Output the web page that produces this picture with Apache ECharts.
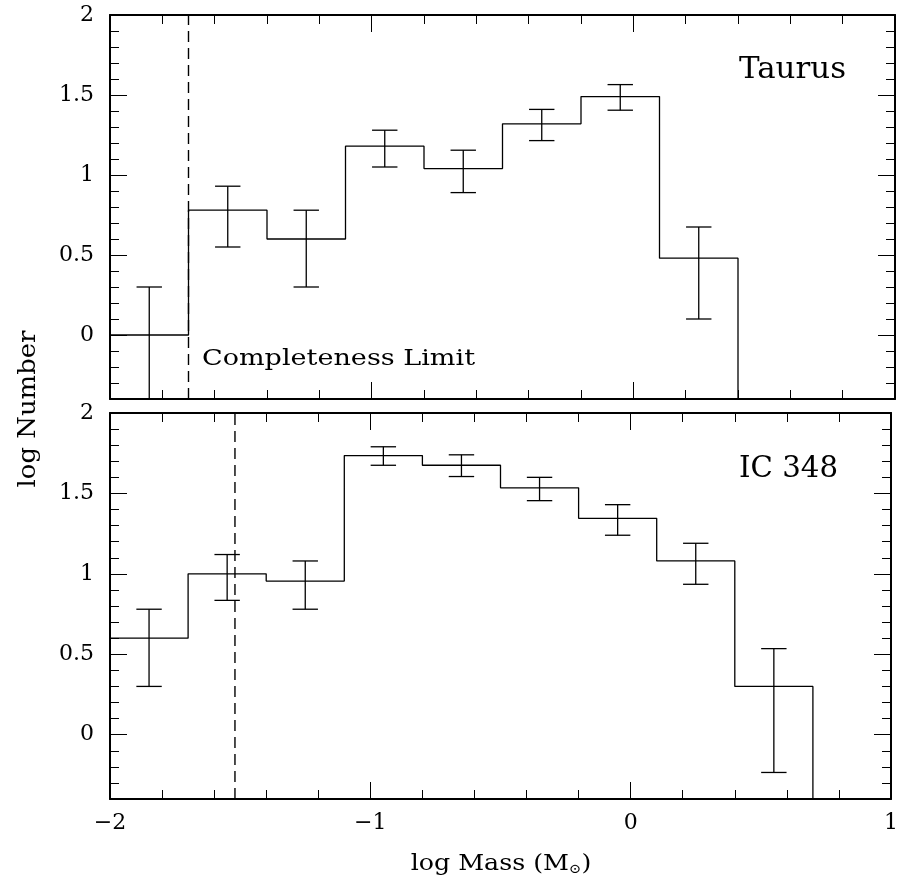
<!DOCTYPE html>
<html><head><meta charset="utf-8">
<script src="https://cdn.jsdelivr.net/npm/echarts@6/dist/echarts.min.js"></script>
<style>html,body{margin:0;padding:0;background:#fff}#c{width:901px;height:886px}</style>
</head><body><div id="c"></div>
<script>
// ---------------- data ----------------
const taurusEdges = [-2.0, -1.7, -1.4, -1.1, -0.8, -0.5, -0.2, 0.1, 0.4];
const taurusLogN  = [0.00, 0.78, 0.60, 1.18, 1.04, 1.32, 1.49, 0.48];
const taurusHigh  = [0.30, 0.93, 0.78, 1.28, 1.155, 1.41, 1.565, 0.675];
const taurusLow   = [null, 0.55, 0.30, 1.05, 0.89, 1.215, 1.405, 0.10];
const taurusLimit = -1.7;

const ic348Edges = [-2.0, -1.7, -1.4, -1.1, -0.8, -0.5, -0.2, 0.1, 0.4, 0.7];
const ic348LogN  = [0.60, 1.00, 0.955, 1.735, 1.675, 1.535, 1.345, 1.08, 0.30];
const ic348High  = [0.78, 1.12, 1.08, 1.79, 1.74, 1.60, 1.43, 1.19, 0.535];
const ic348Low   = [0.30, 0.835, 0.78, 1.675, 1.605, 1.455, 1.24, 0.935, -0.235];
const ic348Limit = -1.52;

const xMin = -2, xMax = 1, xStep = 1;
const yMin = -0.4, yMax = 2;
const yMajorTicks = [0, 0.5, 1, 1.5, 2];
const yMajorLabels = ['0', '0.5', '1', '1.5', '2'];
const yMinorTicks = [-0.4,-0.3,-0.2,-0.1,0,0.1,0.2,0.3,0.4,0.5,0.6,0.7,0.8,0.9,1.0,1.1,1.2,1.3,1.4,1.5,1.6,1.7,1.8,1.9,2.0];
const xTickLabels = {'-2': '\u22122', '-1': '\u22121', '0': '0', '1': '1'};

const panelNames = ['Taurus', 'IC 348'];
const yTitle = 'log Number';
const limitLabel = 'Completeness Limit';

// ---------------- chart ----------------
const FONT = '"DejaVu Serif", "Liberation Serif", serif';
const chart = echarts.init(document.getElementById('c'), null, {renderer: 'canvas'});
const black = '#000';

const grids = [
  {left: 110, right: 6, top: 15, height: 384},
  {left: 110, right: 6, top: 413, height: 386}
];

function stepPoints(edges, vals) {
  const pts = vals.map((v, i) => [edges[i], v]);
  pts.push([edges[edges.length - 1], vals[vals.length - 1]]);
  pts.push([edges[edges.length - 1], yMin - 1]);
  return pts;
}
function errPoints(edges, hi, lo) {
  return hi.map((h, i) => [(edges[i] + edges[i + 1]) / 2, h, lo[i] == null ? NaN : lo[i]]);
}

const xAxes = [], yAxes = [];
[0, 1].forEach(g => {
  ['bottom', 'top'].forEach(pos => {
    xAxes.push({
      type: 'value', gridIndex: g, position: pos, min: xMin, max: xMax, interval: xStep,
      axisLine: {show: true, onZero: false, lineStyle: {color: black, width: 2}},
      axisTick: {show: true, inside: true, length: 17, lineStyle: {color: black, width: 1}},
      minorTick: {show: true, splitNumber: 5, length: 9, lineStyle: {color: black, width: 1}},
      splitLine: {show: false}, minorSplitLine: {show: false},
      axisLabel: {show: g === 1 && pos === 'bottom', margin: 13, color: black,
        fontFamily: FONT, fontSize: 22, formatter: v => xTickLabels[String(Math.round(v))]}
    });
  });
  ['left', 'right'].forEach(pos => {
    yAxes.push({
      type: 'value', gridIndex: g, position: pos, min: yMin, max: yMax,
      axisLine: {show: true, onZero: false, lineStyle: {color: black, width: 2}},
      axisTick: {show: true, inside: true, length: 17, customValues: yMajorTicks, lineStyle: {color: black, width: 1}},
      splitLine: {show: false},
      axisLabel: {show: pos === 'left', customValues: yMajorTicks, margin: 16, color: black,
        fontFamily: FONT, fontSize: 22,
        formatter: v => yMajorLabels[yMajorTicks.findIndex(t => Math.abs(t - v) < 1e-6)]}
    });
    yAxes.push({
      type: 'value', gridIndex: g, position: pos, min: yMin, max: yMax,
      axisLine: {show: false, onZero: false},
      axisTick: {show: true, inside: true, length: 9, customValues: yMinorTicks, lineStyle: {color: black, width: 1}},
      splitLine: {show: false},
      axisLabel: {show: false}
    });
  });
});

function errRender(params, api) {
  const x = api.value(0), hi = api.value(1), lo = api.value(2);
  const noLow = isNaN(lo);
  const pHi = api.coord([x, hi]);
  const pLo = api.coord([x, noLow ? yMin : lo]);
  const cap = 12.7;
  const st = {stroke: black, lineWidth: 1.3};
  const ch = [
    {type: 'line', shape: {x1: pHi[0], y1: pHi[1], x2: pLo[0], y2: pLo[1]}, style: st},
    {type: 'line', shape: {x1: pHi[0] - cap, y1: pHi[1], x2: pHi[0] + cap, y2: pHi[1]}, style: st}
  ];
  if (!noLow) ch.push({type: 'line', shape: {x1: pLo[0] - cap, y1: pLo[1], x2: pLo[0] + cap, y2: pLo[1]}, style: st});
  return {type: 'group', children: ch};
}

const panels = [
  {edges: taurusEdges, vals: taurusLogN, hi: taurusHigh, lo: taurusLow, lim: taurusLimit},
  {edges: ic348Edges, vals: ic348LogN, hi: ic348High, lo: ic348Low, lim: ic348Limit}
];
const series = [];
panels.forEach((p, g) => {
  const xi = g * 2, yi = g * 4;
  series.push({
    type: 'line', xAxisIndex: xi, yAxisIndex: yi, step: 'end', symbol: 'none', clip: true,
    data: stepPoints(p.edges, p.vals), lineStyle: {color: black, width: 1.3}, silent: true, animation: false
  });
  series.push({
    type: 'custom', xAxisIndex: xi, yAxisIndex: yi, renderItem: errRender, clip: true,
    encode: {x: 0, y: [1, 2]}, data: errPoints(p.edges, p.hi, p.lo), silent: true, animation: false
  });
  series.push({
    type: 'line', xAxisIndex: xi, yAxisIndex: yi, symbol: 'none',
    data: [[p.lim, yMin], [p.lim, yMax]],
    lineStyle: {color: black, width: 1.4, type: [11, 6]}, silent: true, animation: false
  });
});

const mctx = document.createElement('canvas').getContext('2d');
function fitScale(text, font, target) { mctx.font = font; return target / mctx.measureText(text).width; }

const fCompl = '23px ' + FONT, fPanel = '29px ' + FONT, fYTitle = '25px ' + FONT;

chart.setOption({
  backgroundColor: '#fff',
  animation: false,
  grid: grids,
  xAxis: xAxes,
  yAxis: yAxes,
  series: series,
  graphic: [
    {type: 'text', x: 739, y: 70, scaleX: fitScale(panelNames[0], fPanel, 107),
      style: {text: panelNames[0], font: fPanel, fill: black, textAlign: 'left', textVerticalAlign: 'middle'}},
    {type: 'text', x: 739, y: 469, scaleX: fitScale(panelNames[1], fPanel, 99),
      style: {text: panelNames[1], font: fPanel, fill: black, textAlign: 'left', textVerticalAlign: 'middle'}},
    {type: 'text', x: 202, y: 359, scaleX: fitScale(limitLabel, fCompl, 273),
      style: {text: limitLabel, font: fCompl, fill: black, textAlign: 'left', textVerticalAlign: 'middle'}},
    {type: 'text', x: 501, y: 864, scaleX: 1.15, originX: 0,
      style: {text: '{a|log Mass (M}{b|\u2299}{a|)}', fill: black, textAlign: 'center', textVerticalAlign: 'middle',
        rich: {a: {fontFamily: FONT, fontSize: 22, fill: black, color: black},
               b: {fontFamily: FONT, fontSize: 13, fill: black, color: black, padding: [12, 0, 0, 0]}}}},
    {type: 'text', x: 28, y: 409, rotation: Math.PI / 2, scaleX: fitScale(yTitle, fYTitle, 157),
      style: {text: yTitle, font: fYTitle, fill: black, textAlign: 'center', textVerticalAlign: 'middle'}}
  ]
});
</script></body></html>
